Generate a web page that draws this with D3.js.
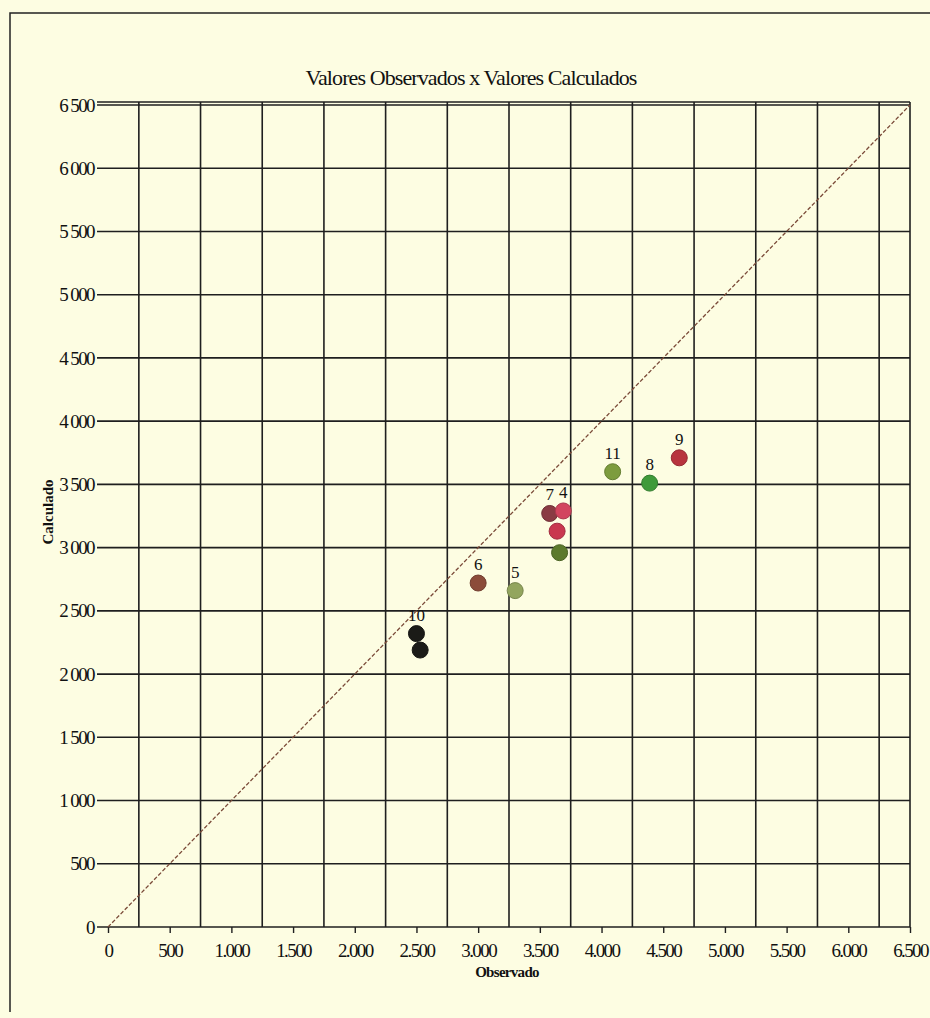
<!DOCTYPE html>
<html>
<head>
<meta charset="utf-8">
<script src="https://cdn.jsdelivr.net/npm/d3@7"></script>
<style>
  body { margin: 0; background: #fdfde2; }
  svg { display: block; }
  text { font-family: "Liberation Serif", "DejaVu Serif", serif; fill: #111; }
</style>
</head>
<body>
<svg></svg>
<script>
var width = 930;
var height = 1018;

// data
var labels = ['10', '', '6', '5', '7', '4', '', '', '11', '8', '9'];
var observado = [2500, 2530, 3000, 3300, 3580, 3690, 3640, 3660, 4090, 4390, 4630];
var calculado = [2320, 2190, 2720, 2660, 3270, 3290, 3130, 2960, 3600, 3510, 3710];
var colors = ['#1b1b17', '#1b1b17', '#8c4c3a', '#93a55e', '#8a3b44', '#d2455f', '#c9384f', '#5c7a2c', '#7d9c3e', '#3f9a3a', '#b8343e'];

var xTicks = [0, 500, 1000, 1500, 2000, 2500, 3000, 3500, 4000, 4500, 5000, 5500, 6000, 6500];
var xTickLabels = ['0', '500', '1.000', '1.500', '2.000', '2.500', '3.000', '3.500', '4.000', '4.500', '5.000', '5.500', '6.000', '6.500'];
var yTicks = [0, 500, 1000, 1500, 2000, 2500, 3000, 3500, 4000, 4500, 5000, 5500, 6000, 6500];
var yTickLabels = ['0', '500', '1 000', '1 500', '2 000', '2 500', '3 000', '3 500', '4 000', '4 500', '5 000', '5 500', '6 000', '6 500'];
var xGrid = [250, 750, 1250, 1750, 2250, 2750, 3250, 3750, 4250, 4750, 5250, 5750, 6250, 6500];

var svg = d3.select('svg')
    .attr('width', width)
    .attr('height', height);

svg.append('rect')
    .attr('width', width).attr('height', height)
    .attr('fill', '#fdfde2');

// outer frame (left and top edges visible)
svg.append('path')
    .attr('d', 'M10,1012V13H930')
    .attr('fill', 'none')
    .attr('stroke', '#222')
    .attr('stroke-width', 1.5);

var x = d3.scaleLinear().domain([0, 6500]).range([108, 910]);
var y = d3.scaleLinear().domain([0, 6500]).range([927, 105]);

// title
svg.append('text')
    .attr('x', 471).attr('y', 85)
    .attr('text-anchor', 'middle')
    .attr('font-size', 22)
    .attr('letter-spacing', -0.9)
    .text('Valores Observados x Valores Calculados');

var grid = svg.append('g').attr('stroke', '#1f1f1f').attr('stroke-width', 1.6);

// horizontal grid lines, extending left as ticks
grid.selectAll('line.h')
    .data(yTicks)
    .enter().append('line')
    .attr('class', 'h')
    .attr('x1', 97).attr('x2', x(6500))
    .attr('y1', function(d) { return y(d); })
    .attr('y2', function(d) { return y(d); });

// extra top line (double edge)
grid.append('line')
    .attr('x1', 97).attr('x2', x(6500))
    .attr('y1', y(6500) - 3).attr('y2', y(6500) - 3);

// vertical grid lines
grid.selectAll('line.v')
    .data(xGrid)
    .enter().append('line')
    .attr('class', 'v')
    .attr('x1', function(d) { return x(d); })
    .attr('x2', function(d) { return x(d); })
    .attr('y1', y(6500) - 3).attr('y2', y(0));

// x axis ticks below
var xAxis = d3.axisBottom(x)
    .tickValues(xTicks)
    .tickSize(6)
    .tickFormat(function(d, i) { return xTickLabels[i]; });

var gx = svg.append('g')
    .attr('transform', 'translate(0,' + y(0) + ')')
    .call(xAxis);
gx.attr('font-size', null).attr('font-family', null);
gx.select('.domain').remove();
gx.selectAll('line').attr('stroke', '#1f1f1f').attr('stroke-width', 1.4);
gx.selectAll('text')
    .attr('y', 30)
    .attr('dy', null)
    .attr('font-size', 19)
    .attr('letter-spacing', -1.6)
    .attr('fill', '#111');

// y axis labels
var yAxis = d3.axisLeft(y)
    .tickValues(yTicks)
    .tickSize(0)
    .tickPadding(14)
    .tickFormat(function(d, i) { return yTickLabels[i]; });

var gy = svg.append('g')
    .attr('transform', 'translate(108,0)')
    .call(yAxis);
gy.attr('font-size', null).attr('font-family', null);
gy.select('.domain').remove();
gy.selectAll('text')
    .attr('font-size', 19)
    .attr('letter-spacing', -1.6)
    .attr('fill', '#111');

// axis titles
svg.append('text')
    .attr('x', 507).attr('y', 977)
    .attr('text-anchor', 'middle')
    .attr('font-size', 15)
    .attr('font-weight', 'bold')
    .attr('letter-spacing', -0.7)
    .text('Observado');

svg.append('text')
    .attr('transform', 'translate(53,512) rotate(-90)')
    .attr('text-anchor', 'middle')
    .attr('font-size', 15)
    .attr('font-weight', 'bold')
    .text('Calculado');

// 1:1 reference line
svg.append('line')
    .attr('x1', x(0)).attr('y1', y(0))
    .attr('x2', x(6500)).attr('y2', y(6500))
    .attr('stroke', '#7a4a38')
    .attr('stroke-width', 1.3)
    .attr('stroke-dasharray', '4,2');

// points
var pts = svg.append('g')
    .selectAll('g')
    .data(observado.map(function(d, i) { return i; }))
    .enter().append('g');

pts.append('circle')
    .attr('cx', function(i) { return x(observado[i]); })
    .attr('cy', function(i) { return y(calculado[i]); })
    .attr('r', 8)
    .attr('fill', function(i) { return colors[i]; })
    .attr('stroke', function(i) { return d3.color(colors[i]).darker(0.6); })
    .attr('stroke-width', 1);

pts.append('text')
    .attr('x', function(i) { return x(observado[i]); })
    .attr('y', function(i) { return y(calculado[i]) - 13; })
    .attr('text-anchor', 'middle')
    .attr('font-size', 17)
    .text(function(i) { return labels[i]; });
</script>
</body>
</html>
